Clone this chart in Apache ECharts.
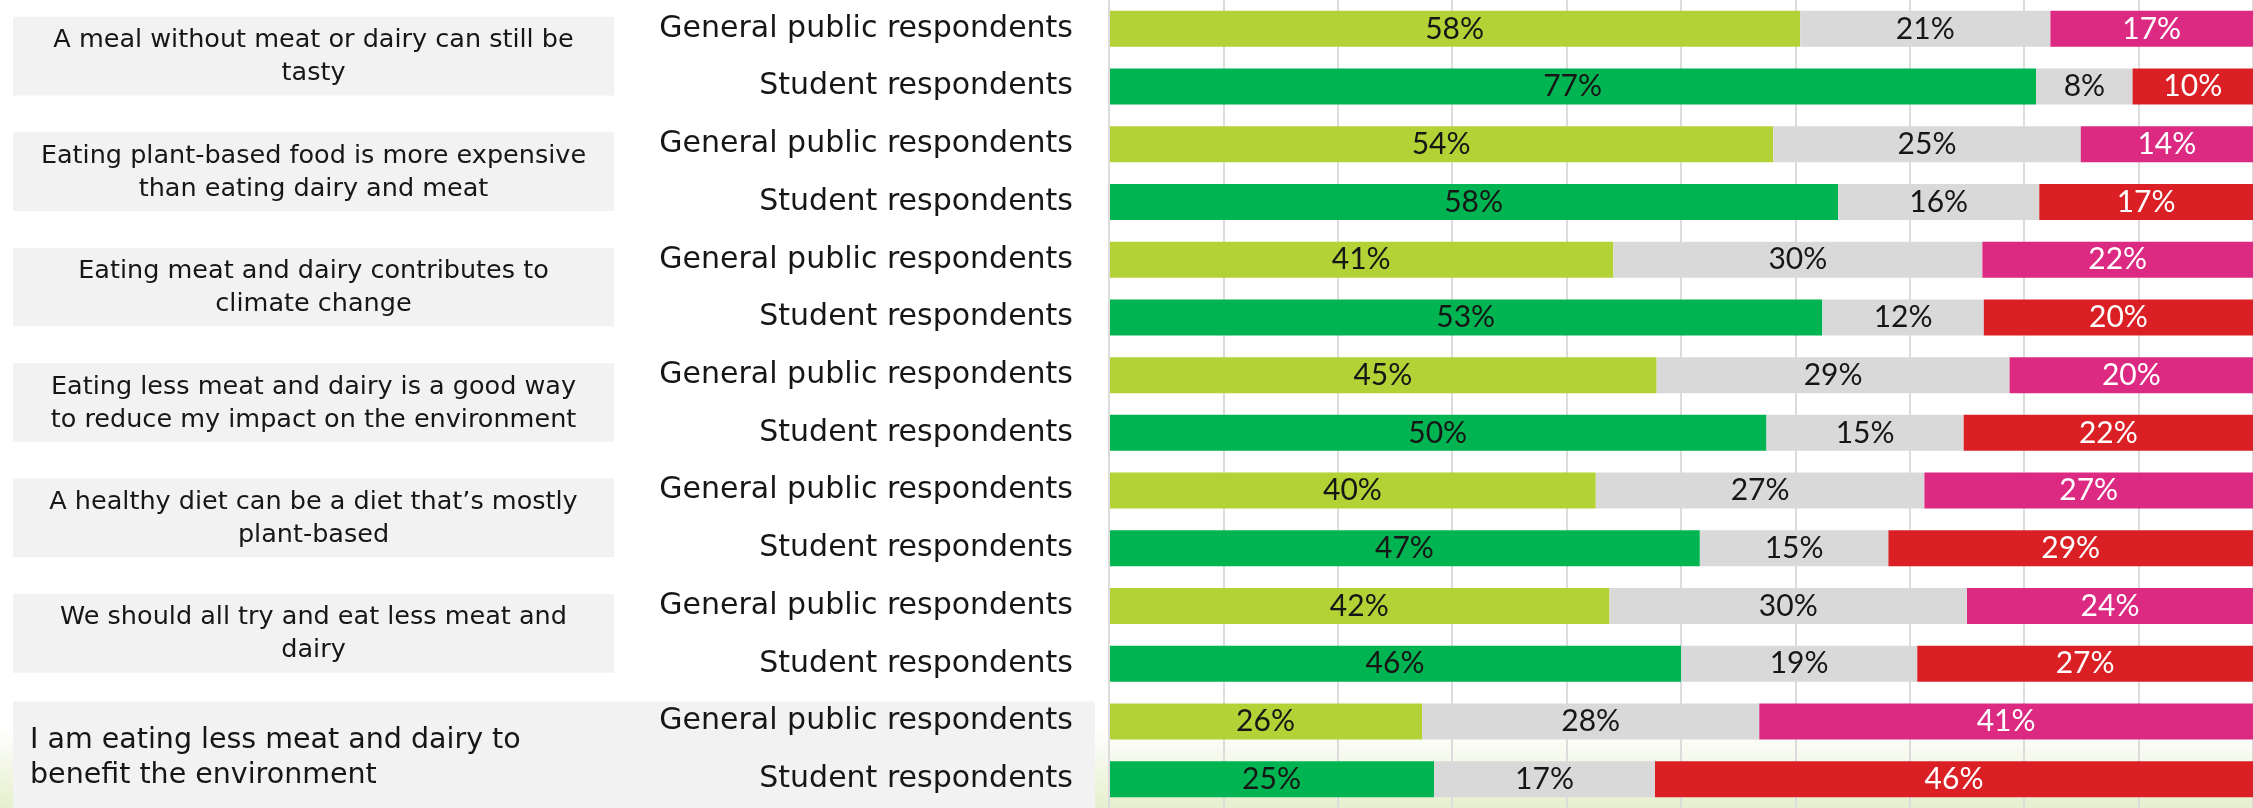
<!DOCTYPE html>
<html>
<head>
<meta charset="utf-8">
<title>Attitudes to eating less meat and dairy</title>
<script src="https://cdn.jsdelivr.net/npm/echarts@6/dist/echarts.min.js"></script>
<style>
  html, body { margin: 0; padding: 0; background: #ffffff; }
  #chart { width: 2253px; height: 808px; }
</style>
</head>
<body>
<div id="chart"></div>
<script>
// Respondent group for each bar, top to bottom (two bars per statement)
const categories = [
  'General public respondents', 'Student respondents',
  'General public respondents', 'Student respondents',
  'General public respondents', 'Student respondents',
  'General public respondents', 'Student respondents',
  'General public respondents', 'Student respondents',
  'General public respondents', 'Student respondents',
  'General public respondents', 'Student respondents'
];

// Statement text for each pair of bars
const statements = [
  'A meal without meat or dairy can still be\ntasty',
  'Eating plant-based food is more expensive\nthan eating dairy and meat',
  'Eating meat and dairy contributes to\nclimate change',
  'Eating less meat and dairy is a good way\nto reduce my impact on the environment',
  'A healthy diet can be a diet that\u2019s mostly\nplant-based',
  'We should all try and eat less meat and\ndairy',
  'I am eating less meat and dairy to\nbenefit the environment'
];

// Share of respondents (%) per bar
const agree    = [58, 77, 54, 58, 41, 53, 45, 50, 40, 47, 42, 46, 26, 25];
const neutral  = [21,  8, 25, 16, 30, 12, 29, 15, 27, 15, 30, 19, 28, 17];
const disagree = [17, 10, 14, 17, 22, 20, 20, 22, 27, 29, 24, 27, 41, 46];

const TEXT_FONT = '"DejaVu Sans", "Open Sans", sans-serif';
const VALUE_FONT = 'Lato, "Noto Sans", sans-serif';

// Each bar is stacked to 100%: segment length = value / row total
const totals = agree.map((a, i) => a + neutral[i] + disagree[i]);
function shares(values, colorFor) {
  return values.map((v, i) => ({
    value: v / totals[i] * 100,
    itemStyle: { color: colorFor(i) }
  }));
}
const isStudent = i => i % 2 === 1;

function barSeries(name, values, colorFor, labelColor) {
  return {
    name: name,
    type: 'bar',
    stack: 'total',
    barWidth: 36,
    z: 5,
    data: shares(values, colorFor),
    label: {
      show: true,
      position: 'inside',
      color: labelColor,
      fontFamily: VALUE_FONT,
      fontSize: 30,
      formatter: p => values[p.dataIndex] + '%'
    },
    emphasis: { disabled: true }
  };
}

const chart = echarts.init(document.getElementById('chart'), null, { renderer: 'canvas' });

const option = {
  animation: false,
  backgroundColor: '#ffffff',
  grid: { left: 1109, right: 0, top: -1, bottom: -4, containLabel: false },
  xAxis: {
    type: 'value',
    min: 0,
    max: 100,
    interval: 10,
    z: 3,
    axisLabel: { show: false },
    axisTick: { show: false },
    axisLine: { show: false },
    splitLine: { show: true, lineStyle: { color: '#dcdcdc', width: 2 } }
  },
  yAxis: {
    type: 'category',
    inverse: true,
    data: categories,
    z: 6,
    axisTick: { show: false },
    axisLine: { show: true, lineStyle: { color: '#dcdcdc', width: 2 } },
    axisLabel: {
      color: '#161616',
      fontFamily: TEXT_FONT,
      fontSize: 30,
      margin: 36
    }
  },
  series: [
    barSeries('Agree', agree, i => isStudent(i) ? '#00b451' : '#b2d235', '#161616'),
    barSeries('Neither', neutral, () => '#d9d9d9', '#161616'),
    barSeries('Disagree', disagree, i => isStudent(i) ? '#da2024' : '#dc2a83', '#ffffff')
  ]
};
chart.setOption(option);

// Statement boxes placed against the category positions of their two bars
function statementGraphics() {
  const W = chart.getWidth(), H = chart.getHeight();
  const els = [{
    type: 'rect',
    z: 0,
    silent: true,
    shape: { x: 0, y: 728, width: W, height: H - 728 },
    style: {
      fill: new echarts.graphic.LinearGradient(0, 0, 0, 1, [
        { offset: 0, color: '#ffffff' },
        { offset: 1, color: '#e6efcd' }
      ])
    }
  }];
  statements.forEach((text, k) => {
    const yTop = chart.convertToPixel({ yAxisIndex: 0 }, 2 * k);
    const yBot = chart.convertToPixel({ yAxisIndex: 0 }, 2 * k + 1);
    const last = k === statements.length - 1;
    const top = last ? yTop - 20 : yTop - 12;
    const bottom = last ? H : yBot + 9;
    const left = 13;
    const width = last ? 1082 : 601;
    els.push({
      type: 'rect',
      z: 1,
      silent: true,
      shape: { x: left, y: top, width: width, height: bottom - top },
      style: { fill: '#f2f2f2' }
    });
    els.push({
      type: 'text',
      z: 2,
      silent: true,
      x: last ? 30 : left + width / 2,
      y: (top + bottom) / 2 + (last ? 3 : 1),
      style: {
        text: text,
        fill: '#161616',
        fontFamily: TEXT_FONT,
        fontSize: last ? 28.5 : 25.5,
        lineHeight: last ? 35 : 33,
        align: last ? 'left' : 'center',
        verticalAlign: 'middle'
      }
    });
  });
  return els;
}
chart.setOption({ graphic: { elements: statementGraphics() } });
</script>
</body>
</html>
